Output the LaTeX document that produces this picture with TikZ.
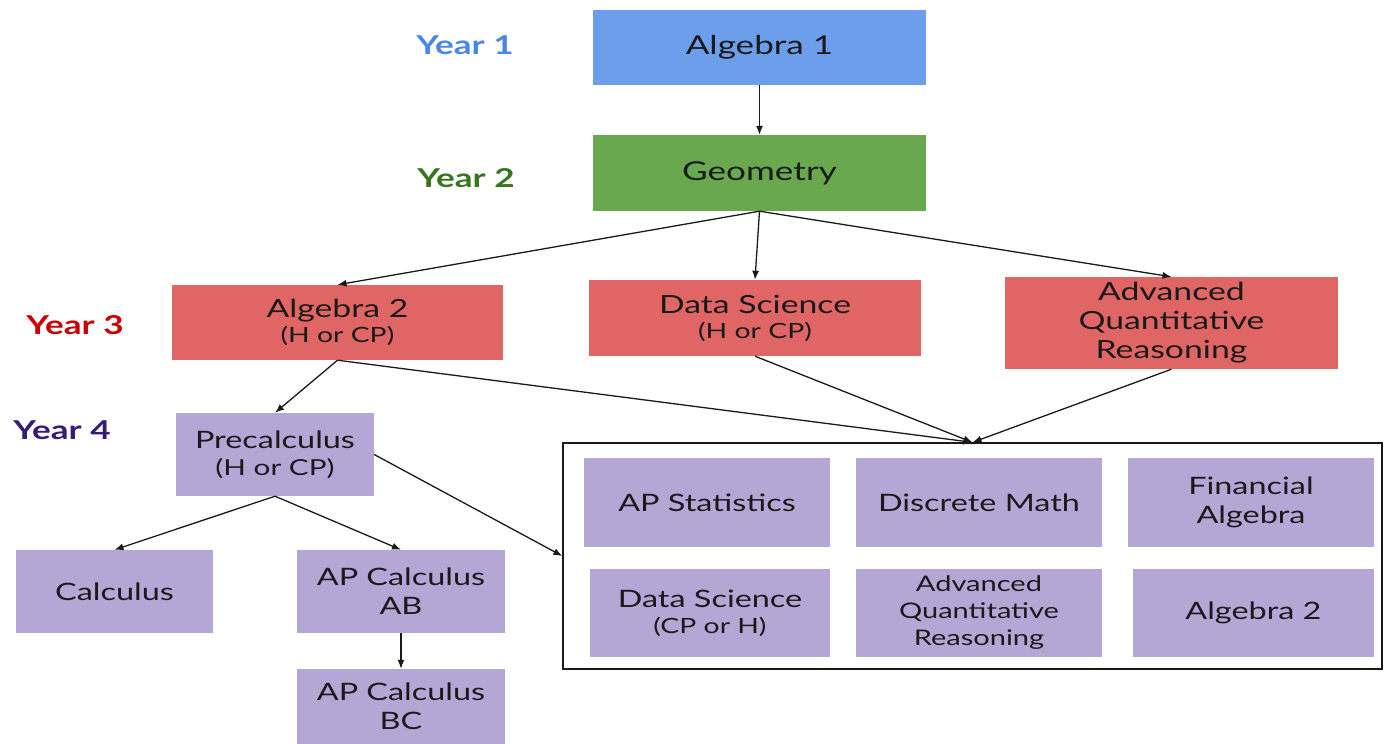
\documentclass[tikz,border=0pt]{standalone}
\usepackage{fontspec}
\setmainfont{Lato}[FakeStretch=1.35]
\usetikzlibrary{arrows.meta}
\definecolor{cblue}{HTML}{6D9EEB}
\definecolor{cgreen}{HTML}{6AA84F}
\definecolor{cred}{HTML}{E06666}
\definecolor{cpurple}{HTML}{B4A7D6}
\definecolor{yblue}{HTML}{4A86E8}
\definecolor{ygreen}{HTML}{38761D}
\definecolor{yred}{HTML}{CC0000}
\definecolor{ypurple}{HTML}{351C75}
\definecolor{txt}{HTML}{1A1A1A}
\newcommand\bigtxt{\fontsize{26}{31}\selectfont}
\newcommand\redtxt{\fontsize{25}{29}\selectfont}
\newcommand\midtxt{\fontsize{24}{29}\selectfont}
\newcommand\subtxt{\fontsize{21}{25}\selectfont}
\newcommand\smalltxt{\fontsize{21.5}{27}\selectfont}
\tikzset{
  box/.style={inner sep=0pt, align=center, text=txt, font=\midtxt},
  yearlbl/.style={font=\fontsize{26}{31}\selectfont\bfseries},
  arr/.style={draw=txt, line width=1.3pt, -{Latex[length=9pt,width=7pt]}},
}
\begin{document}
\begin{tikzpicture}[x=1pt,y=-1pt]
\useasboundingbox (0,0) rectangle (1385,744);
% Year labels
\node[yearlbl, text=yblue] (y1) at (465,45) {Year 1};
\node[yearlbl, text=ygreen] (y2) at (466,178) {Year 2};
\node[yearlbl, text=yred] (y3) at (75,325) {Year 3};
\node[yearlbl, text=ypurple] (y4) at (62,430) {Year 4};
% top boxes
\node[box, fill=cblue, minimum width=333pt, minimum height=75pt, font=\bigtxt] (alg1) at (759.5,47.5) {Algebra 1};
\node[box, fill=cgreen, minimum width=333pt, minimum height=76pt, font=\bigtxt] (geo) at (759.5,173) {Geometry};
% year 3
\node[box, fill=cred, minimum width=331pt, minimum height=75pt, font=\redtxt] (alg2) at (337.5,322.5) {Algebra 2\\[-4pt]{\subtxt (H or CP)}};
\node[box, fill=cred, minimum width=332pt, minimum height=76pt, font=\redtxt] (ds) at (755,318) {Data Science\\[-4pt]{\subtxt (H or CP)}};
\node[box, fill=cred, minimum width=333pt, minimum height=92pt, font=\redtxt] (aqr) at (1171.5,323) {Advanced\\Quantitative\\Reasoning};
% year 4
\node[box, fill=cpurple, minimum width=198pt, minimum height=83pt] (pre) at (275,454.5) {Precalculus\\[-2pt]{\fontsize{22}{26}\selectfont (H or CP)}};
\node[box, fill=cpurple, minimum width=197pt, minimum height=83pt] (calc) at (114.5,591.5) {Calculus};
\node[box, fill=cpurple, minimum width=208pt, minimum height=83pt] (apab) at (401,591.5) {AP Calculus\\AB};
\node[box, fill=cpurple, minimum width=208pt, minimum height=75pt] (apbc) at (401,706.5) {AP Calculus\\BC};
% frame
\node[draw=txt, line width=1.3pt, minimum width=819pt, minimum height=226pt, inner sep=0pt] (frame) at (972.5,556) {};
\node[box, fill=cpurple, minimum width=246pt, minimum height=89pt] (aps) at (707,502.5) {AP Statistics};
\node[box, fill=cpurple, minimum width=246pt, minimum height=89pt] (dm) at (979,502.5) {Discrete Math};
\node[box, fill=cpurple, minimum width=246pt, minimum height=89pt] (fa) at (1251,502.5) {Financial\\Algebra};
\node[box, fill=cpurple, minimum width=240pt, minimum height=88pt] (ds2) at (710,613) {Data Science\\[-3pt]{\subtxt (CP or H)}};
\node[box, fill=cpurple, minimum width=246pt, minimum height=88pt, font=\smalltxt] (aqr2) at (979,613) {Advanced\\Quantitative\\Reasoning};
\node[box, fill=cpurple, minimum width=241pt, minimum height=88pt] (alg2b) at (1253.5,613) {Algebra 2};
% connectors
\draw[arr] (alg1.south) -- (geo.north);
\draw[arr] (geo.south) -- (alg2.north);
\draw[arr] (geo.south) -- (ds.north);
\draw[arr] (geo.south) -- (aqr.north);
\draw[arr] (alg2.south) -- (pre.north);
\draw[arr] (alg2.south) -- (frame.north);
\draw[arr] (ds.south) -- (frame.north);
\draw[arr] (aqr.south) -- (frame.north);
\draw[arr] (pre.east) -- (frame.west);
\draw[arr] (pre.south) -- (calc.north);
\draw[arr] (pre.south) -- (apab.north);
\draw[arr] (apab.south) -- (apbc.north);
\end{tikzpicture}
\end{document}
